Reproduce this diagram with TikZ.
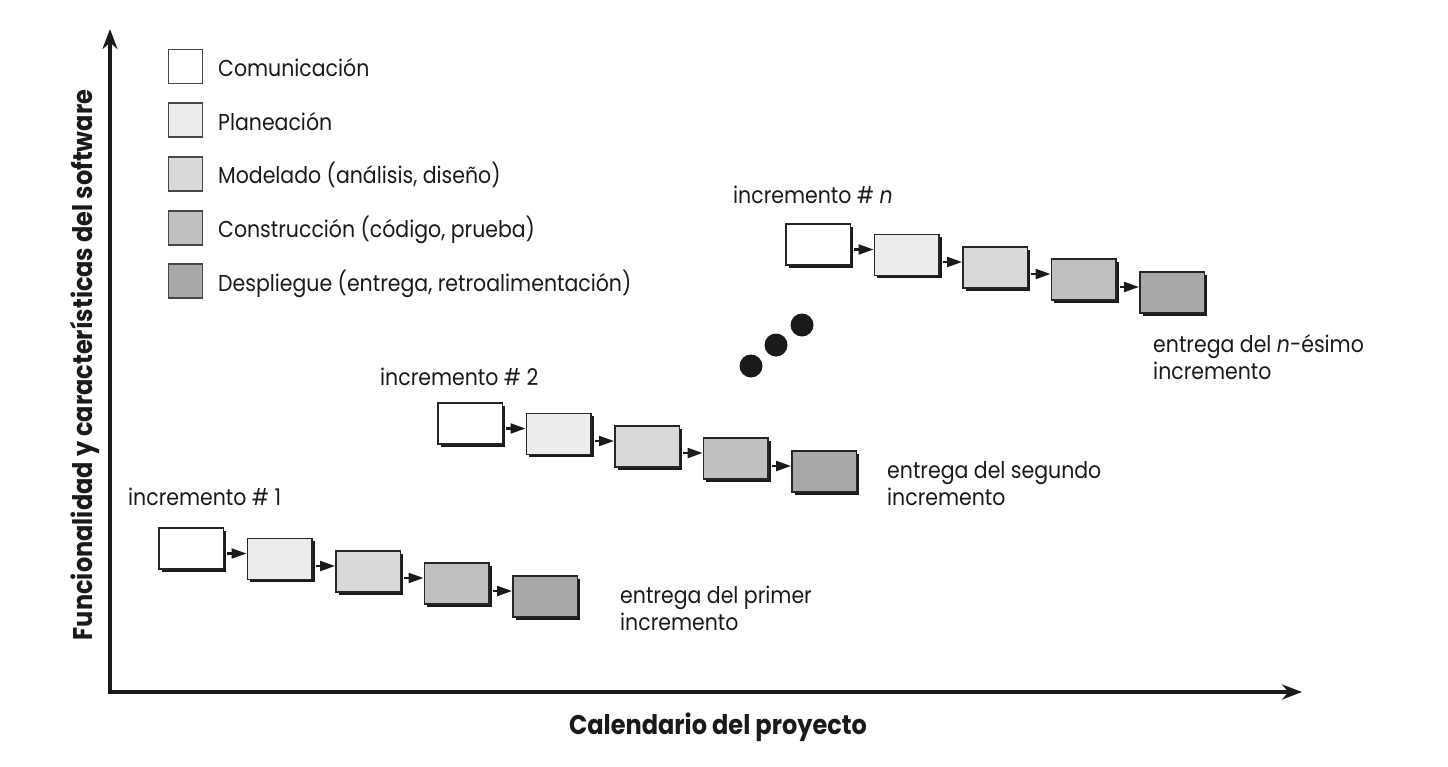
\documentclass[tikz,border=0pt]{standalone}
\usepackage{fontspec}
\setmainfont{Poppins}[FakeStretch=0.89]
\usetikzlibrary{arrows.meta,shadows,calc}
\definecolor{c1}{HTML}{FFFFFF}
\definecolor{c2}{HTML}{ECECEC}
\definecolor{c3}{HTML}{D9D9D9}
\definecolor{c4}{HTML}{BFBFBF}
\definecolor{c5}{HTML}{A8A8A8}
\definecolor{edge}{HTML}{262626}
\definecolor{ink}{HTML}{1A1A1A}
\tikzset{
  phase/.style={draw=edge, line width=1.6pt, minimum width=64.5pt, minimum height=41pt,
    anchor=north west, inner sep=0pt,
    drop shadow={shadow xshift=3pt, shadow yshift=-3pt, fill=ink, opacity=1}},
  legbox/.style={draw=edge!85, line width=1.8pt, minimum size=34pt, inner sep=0pt},
  lab/.style={font=\fontsize{23}{26}\selectfont, text=ink, inner sep=0pt, align=left},
  axlab/.style={font=\fontsize{27}{30}\selectfont\bfseries, text=ink, inner sep=0pt},
  link/.style={draw=ink, line width=2.2pt, -{Triangle[length=15pt,width=10pt]}},
  axisline/.style={draw=ink, line width=4pt, {Stealth[length=20pt,width=15pt]}-{Stealth[length=20pt,width=15pt]}},
  dot/.style={circle, fill=ink, minimum size=23pt, inner sep=0pt}
}
\newcommand\increment[3]{%
  \foreach \i/\dy in {1/0,2/10.5,3/23,4/35,5/48}{
    \node[phase, fill=c\i] (#1-\i) at ({#2+88.5*(\i-1)},{#3+\dy}) {};
  }
  \foreach \i [evaluate=\i as \j using int(\i+1)] in {1,...,4}{
    \coordinate (#1-e\i) at ($(#1-\j.north west)+(0,16)$);
    \draw[link] (#1-e\i -| #1-\i.east) ++(3,0) -- (#1-e\i);
  }
}
\begin{document}
\begin{tikzpicture}[x=1pt,y=-1pt]
\useasboundingbox (0,0) rectangle (1448,766);
% axes
\coordinate (ytop) at (110,29);
\coordinate (origin) at (110,692);
\coordinate (xend) at (1302,692);
\draw[axisline] (ytop) -- (origin) -- (xend);
\node[axlab, rotate=90, anchor=base] (ylab) at (92,365) {Funcionalidad y características del software};
\node[axlab, anchor=base] (xlab) at (718,734) {Calendario del proyecto};
% legend
\foreach \i/\t in {1/{Comunicación},2/{Planeación},3/{Modelado (análisis, diseño)},4/{Construcción (código, prueba)},5/{Despliegue (entrega, retroalimentación)}}{
  \node[legbox, fill=c\i] (lg\i) at (185.5,{66.5+53.7*(\i-1)}) {};
  \node[lab, anchor=base west] (lt\i) at ($(lg\i.center)+(32.5,10)$) {\t};
}
% increments
\increment{a}{158}{527}
\increment{b}{437}{402}
\increment{c}{785}{223}
\node[lab, anchor=base west] (ia) at (128,505) {incremento \# 1};
\node[lab, anchor=base west] (ib) at (380,385) {incremento \# 2};
\node[lab, anchor=base west] (ic) at (733,203) {incremento \# \textit{n}};
\node[lab, anchor=base west] (da) at (620,603) {entrega del primer};
\node[lab, anchor=base west] (da2) at (620,630) {incremento};
\node[lab, anchor=base west] (db) at (887,478) {entrega del segundo};
\node[lab, anchor=base west] (db2) at (887,505) {incremento};
\node[lab, anchor=base west] (dc) at (1153,352) {entrega del \textit{n}-ésimo};
\node[lab, anchor=base west] (dc2) at (1153,379) {incremento};
% dots
\node[dot] (d1) at (751,366) {};
\node[dot] (d2) at (776,345) {};
\node[dot] (d3) at (802,325) {};
\end{tikzpicture}
\end{document}
